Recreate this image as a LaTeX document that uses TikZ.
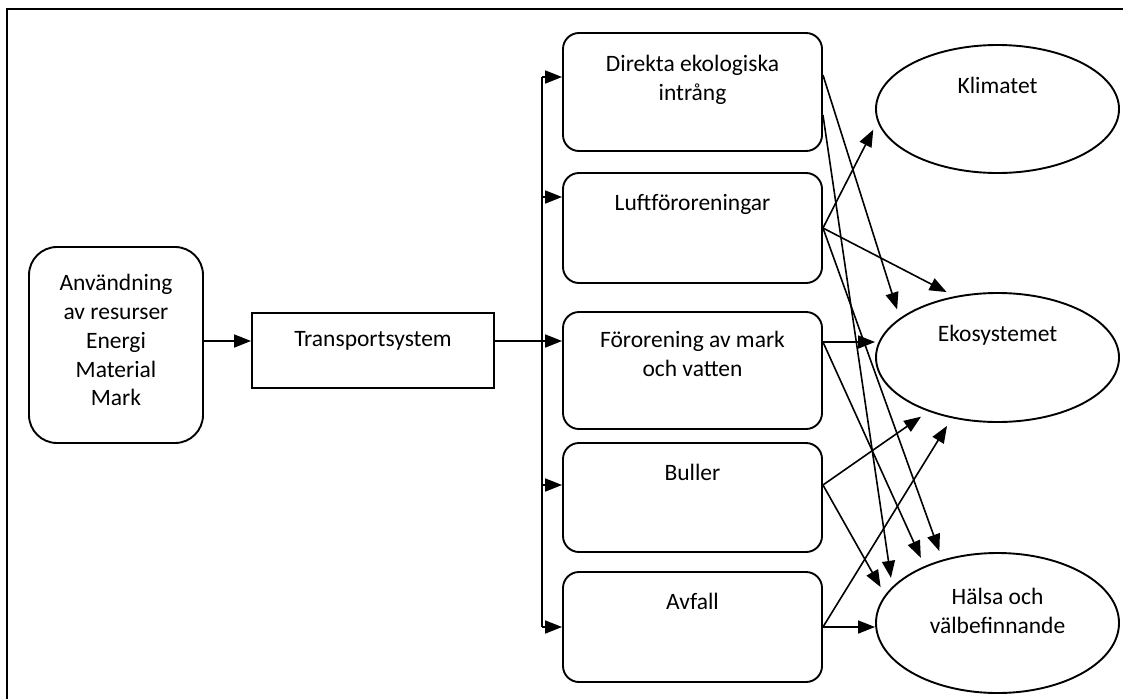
\documentclass[tikz,border=0pt]{standalone}
\usepackage{fontspec}
\setmainfont{Carlito}
\usetikzlibrary{shapes.geometric,arrows.meta}

\begin{document}
\begin{tikzpicture}[x=1pt,y=-1pt,line width=1.9pt,
  txt/.style={anchor=north,align=center,inner sep=0pt,font=\fontsize{23.5}{28.7}\selectfont},
  effbox/.style={draw,rounded corners=16pt,minimum width=259pt,inner sep=0pt},
  target/.style={draw,ellipse,minimum width=243pt,inner sep=0pt},
  arr/.style={line width=1.6pt,-{Triangle[length=17pt,width=13pt]}},
  farr/.style={arr,shorten >=9pt}]
\useasboundingbox (0,0) rectangle (1123,699);
\draw[line width=2.2pt] (7,699) -- (7,9) -- (1123,9);

\node[draw,rounded corners=28pt,minimum width=174pt,minimum height=196pt,inner sep=0pt,
  label={[txt,yshift=-27.6pt]north:Användning\\av resurser\\Energi\\Material\\Mark}] (start) at (116,345) {};
\node[draw,minimum width=242pt,minimum height=75pt,inner sep=0pt,
  label={[txt,yshift=-18pt]north:Transportsystem}] (trans) at (373,350.5) {};

\node[effbox,minimum height=118pt,label={[txt,yshift=-22.6pt]north:Direkta ekologiska\\intrång}] (b1) at (692.5,92) {};
\node[effbox,minimum height=110pt,label={[txt,yshift=-21.6pt]north:Luftföroreningar}] (b2) at (692.5,228) {};
\node[effbox,minimum height=117pt,label={[txt,yshift=-19.6pt]north:Förorening av mark\\och vatten}] (b3) at (692.5,370.5) {};
\node[effbox,minimum height=109pt,label={[txt,yshift=-21.6pt]north:Buller}] (b4) at (692.5,497.5) {};
\node[effbox,minimum height=110pt,label={[txt,yshift=-21.6pt]north:Avfall}] (b5) at (692.5,627) {};

\node[target,minimum height=128pt,label={[txt,yshift=-32.6pt]north:Klimatet}] (kli) at (997.5,109) {};
\node[target,minimum height=129pt,label={[txt,yshift=-32.6pt]north:Ekosystemet}] (eko) at (997.5,357.5) {};
\node[target,minimum height=140pt,label={[txt,yshift=-35.6pt]north:Hälsa och\\välbefinnande}] (hal) at (997.5,623) {};

\draw[arr] ([yshift=4pt]start.east) -- ([yshift=4pt]start.east -| trans.west);
\draw[arr] ([yshift=9.5pt]trans.east) -- ([yshift=9.5pt]trans.east -| b3.west);

\coordinate (bus) at (542,0);
\draw[line width=1.6pt] ([yshift=15pt]b1.west -| bus) -- (b5.west -| bus);
\draw[arr] ([yshift=15pt]b1.west -| bus) -- ([yshift=15pt]b1.west);
\draw[arr] ([yshift=31pt]b2.west -| bus) -- ([yshift=31pt]b2.west);
\draw[arr] ([yshift=12.5pt]b4.west -| bus) -- ([yshift=12.5pt]b4.west);
\draw[arr] (b5.west -| bus) -- (b5.west);

\draw[farr] ([yshift=17pt]b1.east) -- (eko.158);
\draw[farr] ([yshift=-23pt]b1.east) -- (hal.161);
\draw[farr] (b2.east) -- (kli.186);
\draw[farr] (b2.east) -- (eko.125);
\draw[farr] (b2.east) -- (hal.131);
\draw[arr] ([yshift=28.5pt]b3.east) -- ([yshift=28.5pt]b3.east -| eko.west);
\draw[farr] ([yshift=28.5pt]b3.east) -- (hal.142);
\draw[farr] ([yshift=12.5pt]b4.east) -- (eko.218);
\draw[farr] ([yshift=12.5pt]b4.east) -- (hal.166);
\draw[arr] (b5.east) -- (b5.east -| hal.west);
\draw[farr] (b5.east) -- (eko.233);
\end{tikzpicture}
\end{document}
